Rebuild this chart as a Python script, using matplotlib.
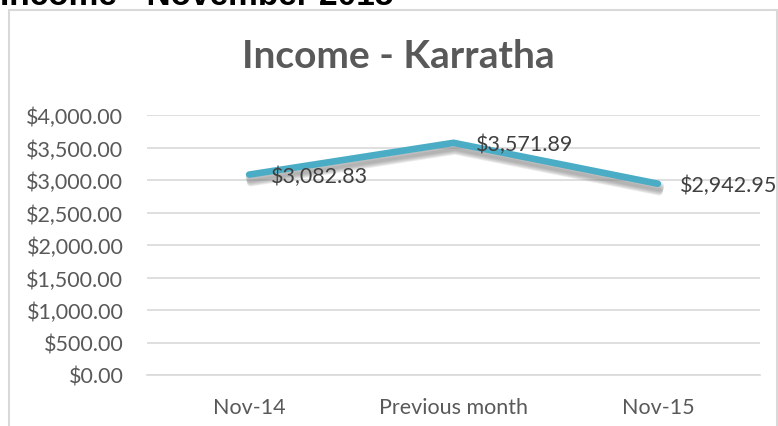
import matplotlib
matplotlib.use("Agg")
import matplotlib.pyplot as plt
import matplotlib.patheffects as pe
from matplotlib.patches import Rectangle
from matplotlib.ticker import FuncFormatter

categories = ["Nov-14", "Previous month", "Nov-15"]
income = [3082.83, 3571.89, 2942.95]
y_ticks = [0, 500, 1000, 1500, 2000, 2500, 3000, 3500, 4000]

W, H = 778, 427
fig = plt.figure(figsize=(W / 100, H / 100), dpi=100)

# chart frame (Excel chart area)
fig.patches.append(Rectangle((9 / W, -0.05), 768 / W, 1 - 11 / H + 0.05,
                             transform=fig.transFigure, fill=False,
                             edgecolor="#d9d9d9", linewidth=1.5))

# sheet heading, mostly cut off at the top
fig.text(0, 1 - 5 / H, "Income - November 2015", ha="left", va="baseline",
         fontsize=24, fontweight="bold", family="Liberation Sans", color="black")

ax = fig.add_axes([147 / W, 1 - 376 / H, 613 / W, 260 / H])
x = range(len(categories))

# soft blurred shadow made of a few faint offset strokes
shadow = []
for off, lw in [(-2, 7), (-3, 6.5), (-4, 6), (-5, 5.5), (-6, 5)]:
    shadow.append(pe.SimpleLineShadow(offset=(1, off), shadow_color="#7f7f7f",
                                      alpha=0.16, linewidth=lw))
ax.plot(x, income, color="#4bacc6", linewidth=4.8, solid_capstyle="round",
        solid_joinstyle="miter", path_effects=shadow + [pe.Normal()])

for xi, v in zip(x, income):
    ax.annotate(f"${v:,.2f}", (xi, v), xytext=(16, -1), textcoords="offset points",
                ha="left", va="center", fontsize=15.5, family="Lato", color="#404040")

ax.set_xlim(-0.5, 2.5)
ax.set_ylim(0, 4000)
ax.set_yticks(y_ticks)
ax.yaxis.set_major_formatter(FuncFormatter(lambda v, p: f"${v:,.2f}"))
ax.set_xticks(list(x))
ax.set_xticklabels(categories)
ax.grid(axis="y", color="#d9d9d9", linewidth=1.2)
ax.set_axisbelow(True)
for s in ["top", "right", "left"]:
    ax.spines[s].set_visible(False)
ax.spines["bottom"].set_color("#d9d9d9")
ax.spines["bottom"].set_linewidth(1.2)
ax.tick_params(length=0, labelsize=15.5, labelcolor="#595959")
ax.tick_params(axis="x", pad=16)
ax.tick_params(axis="y", pad=17)
for lab in ax.get_xticklabels() + ax.get_yticklabels():
    lab.set_family("Lato")

fig.text(398 / W, 1 - 57 / H, "Income - Karratha", ha="center", va="center",
         fontsize=28, fontweight="bold", family="Lato", color="#595959")

fig.savefig("out.png", dpi=100)
